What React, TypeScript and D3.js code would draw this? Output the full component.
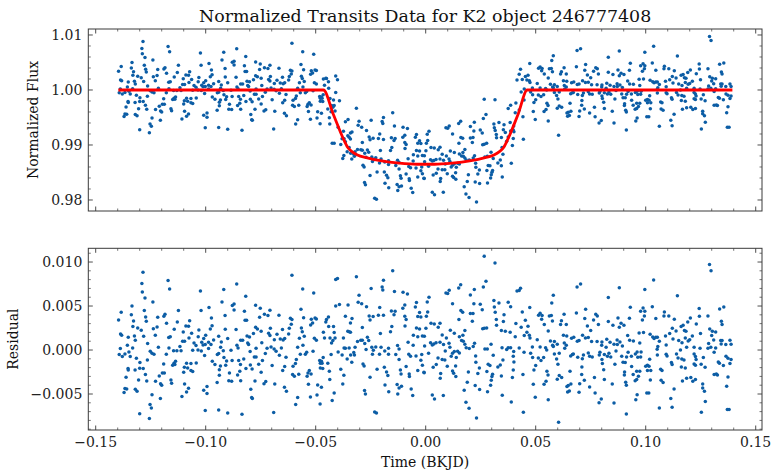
import React from "react";
import * as d3 from "d3";

const TITLE = "Normalized Transits Data for K2 object 246777408";
const X_LABEL = "Time (BKJD)";
const Y_LABEL_TOP = "Normalized Flux";
const Y_LABEL_BOTTOM = "Residual";

const X_TICKS = [-0.15, -0.1, -0.05, 0, 0.05, 0.1, 0.15];
const FLUX_TICKS = [0.98, 0.99, 1.0, 1.01];
const RESID_TICKS = [-0.005, 0, 0.005, 0.01];

// transit model (red line)
const MODEL_TIME = [-0.1397, -0.0465, -0.042, -0.0375, -0.0355, -0.0335, -0.031, -0.027, -0.02, -0.012, -0.004, 0.004, 0.012, 0.02, 0.027, 0.031, 0.0335, 0.0355, 0.0375, 0.042, 0.0462, 0.1394];
const MODEL_FLUX = [1.0, 1.0, 0.9956, 0.9912, 0.9896, 0.9888, 0.9882, 0.9877, 0.9871, 0.9867, 0.9865, 0.9865, 0.9867, 0.9871, 0.9877, 0.9882, 0.9888, 0.9896, 0.9912, 0.9956, 1.0, 1.0];

// observations: [time (BKJD, folded), residual (flux - model)]
const OBSERVATIONS: [number, number][] = [
[-0.1285,0.00883],[-0.1290,0.00755],[-0.1171,0.00789],[-0.1288,0.0066],[-0.1164,0.00694],[-0.1276,0.00592],[-0.1024,0.00671],[-0.1240,0.00546],[-0.1335,0.00501],[-0.1384,0.00429],[-0.1279,0.00448],[-0.1021,0.00448],[-0.0985,0.00482],[-0.1338,0.00402],[-0.1185,0.00406],[-0.1124,0.00448],[-0.1396,0.00342],[-0.1273,0.00376],[-0.1218,0.00372],[-0.1190,0.00383],[-0.1178,0.00304],[-0.0974,0.00365],[-0.1328,0.0033],[-0.1270,0.00327],[-0.1073,0.00334],[-0.1129,0.00319],[-0.1331,0.00266],[-0.1309,0.00251],[-0.1293,0.00224],[-0.1221,0.00262],[-0.1238,0.00243],[-0.1143,0.00236],[-0.1090,0.00274],[-0.1078,0.0027],[-0.0971,0.00277],[-0.0979,0.0024],[-0.1031,0.00228],[-0.1387,0.00183],[-0.1382,0.00168],[-0.1352,0.00145],[-0.1324,0.0016],[-0.1282,0.00156],[-0.1229,0.00168],[-0.1168,0.00141],[-0.1161,0.00152],[-0.1102,0.00205],[-0.1064,0.0019],[-0.1000,0.00168],[-0.1034,0.00152],[-0.1009,0.0013],[-0.1320,0.00111],[-0.1264,0.00073],[-0.1105,0.00099],[-0.1096,0.00099],[-0.1076,0.00137],[-0.1053,0.0008],[-0.1018,0.00088],[-0.0987,0.00088],[-0.0964,0.00115],[-0.1356,0.00054],[-0.1388,0.00016],[-0.1332,0.00024],[-0.1215,0.00031],[-0.1167,0.00024],[-0.1117,0.00039],[-0.1146,-0.00007],[-0.1131,-0.00007],[-0.1044,0.0005],[-0.1035,0.00001],[-0.1012,0.00058],[-0.1002,0.00062],[-0.0976,0.00062],[-0.0987,0.00016],[-0.1349,-0.00022],[-0.1367,-0.00045],[-0.1393,-0.00052],[-0.1379,-0.00075],[-0.1252,-0.00014],[-0.1244,-0.00037],[-0.1235,-0.00048],[-0.1179,-0.00048],[-0.1112,-0.00007],[-0.1059,-0.00003],[-0.1020,-0.0001],[-0.1005,-0.00063],[-0.1343,-0.00075],[-0.1315,-0.00094],[-0.1299,-0.00143],[-0.1265,-0.00113],[-0.1191,-0.00158],[-0.1144,-0.00151],[-0.1137,-0.00128],[-0.1087,-0.00151],[-0.1097,-0.00196],[-0.1067,-0.00154],[-0.1043,-0.00147],[-0.0970,-0.00128],[-0.0958,-0.00166],[-0.1353,-0.00211],[-0.1352,-0.00226],[-0.1321,-0.00226],[-0.1300,-0.00207],[-0.1284,-0.00211],[-0.1150,-0.00173],[-0.1140,-0.00166],[-0.1197,-0.0026],[-0.1188,-0.0026],[-0.1211,-0.00295],[-0.1067,-0.00234],[-0.1059,-0.00245],[-0.1100,-0.00253],[-0.1082,-0.00204],[-0.1362,-0.0031],[-0.1305,-0.0034],[-0.1274,-0.00279],[-0.1268,-0.00351],[-0.1228,-0.00355],[-0.1158,-0.0034],[-0.1155,-0.00378],[-0.1205,-0.00382],[-0.1200,-0.00401],[-0.1096,-0.00385],[-0.1078,-0.00435],[-0.1087,-0.00476],[-0.1367,-0.00438],[-0.1359,-0.00442],[-0.1371,-0.00484],[-0.1320,-0.00446],[-0.1312,-0.00469],[-0.1244,-0.00507],[-0.1108,-0.00529],[-0.1206,-0.00552],[-0.1009,-0.00457],[-0.0994,-0.00416],[-0.0994,-0.00495],[-0.1253,-0.0062],[-0.1247,-0.00658],[-0.1300,-0.00723],[-0.1256,-0.00779],[-0.1002,-0.00688],
[-0.0608,0.00849],[-0.0859,0.00751],[-0.0559,0.00694],[-0.0918,0.00687],[-0.0509,0.00649],[-0.0818,0.00611],[-0.0926,0.00546],[-0.0871,0.00524],[-0.0879,0.00505],[-0.0773,0.00508],[-0.0871,0.00455],[-0.0752,0.00474],[-0.0708,0.00452],[-0.0567,0.00463],[-0.0824,0.0044],[-0.0912,0.00391],[-0.0733,0.00406],[-0.0717,0.00391],[-0.0667,0.00395],[-0.0755,0.00372],[-0.0555,0.00368],[-0.0615,0.00361],[-0.0608,0.00346],[-0.0520,0.00349],[-0.0503,0.00365],[-0.0497,0.00353],[-0.0821,0.00338],[-0.0814,0.00338],[-0.0611,0.00293],[-0.0523,0.00285],[-0.0514,0.00308],[-0.0773,0.00258],[-0.0765,0.0024],[-0.0706,0.00247],[-0.0911,0.00236],[-0.0862,0.00232],[-0.0748,0.00213],[-0.0783,0.00187],[-0.0651,0.00232],[-0.0620,0.00247],[-0.0565,0.00251],[-0.0561,0.00209],[-0.0941,0.00156],[-0.0900,0.0013],[-0.0841,0.00111],[-0.0832,0.00111],[-0.0812,0.0016],[-0.0801,0.00149],[-0.0714,0.0019],[-0.0708,0.00164],[-0.0676,0.00179],[-0.0661,0.00126],[-0.0648,0.00115],[-0.0641,0.0013],[-0.0623,0.00183],[-0.0574,0.00133],[-0.0552,0.00156],[-0.0506,0.00133],[-0.0497,0.00111],[-0.0929,0.00092],[-0.0809,0.0008],[-0.0805,0.00062],[-0.0745,0.00084],[-0.0688,0.00118],[-0.0932,0.00031],[-0.0858,0.00054],[-0.0853,0.00024],[-0.0771,0.0002],[-0.0721,0.0002],[-0.0703,0.00035],[-0.0689,0.00012],[-0.0680,-0.00014],[-0.0656,0.00024],[-0.0582,0.00031],[-0.0558,0.00054],[-0.0920,-0.00007],[-0.0941,-0.00041],[-0.0947,-0.00052],[-0.0885,-0.00003],[-0.0798,-0.00018],[-0.0729,-0.00041],[-0.0665,-0.0006],[-0.0635,-0.00082],[-0.0570,-0.00048],[-0.0547,-0.00048],[-0.0541,-0.00026],[-0.0512,-0.00014],[-0.0917,-0.00086],[-0.0905,-0.00124],[-0.0880,-0.0012],[-0.0850,-0.0012],[-0.0827,-0.00101],[-0.0779,-0.00079],[-0.0771,-0.00079],[-0.0742,-0.0012],[-0.0588,-0.00109],[-0.0482,-0.0012],[-0.0933,-0.00181],[-0.0909,-0.00173],[-0.0842,-0.00166],[-0.0797,-0.0017],[-0.0759,-0.00162],[-0.0698,-0.00177],[-0.0641,-0.00188],[-0.0603,-0.00185],[-0.0592,-0.00154],[-0.0479,-0.00151],[-0.0817,-0.00211],[-0.0789,-0.00215],[-0.0650,-0.00234],[-0.0529,-0.00234],[-0.0535,-0.0026],[-0.0479,-0.00204],[-0.0938,-0.00223],[-0.0892,-0.0026],[-0.0855,-0.00283],[-0.0845,-0.00242],[-0.0748,-0.00253],[-0.0605,-0.00279],[-0.0597,-0.00298],[-0.0577,-0.00276],[-0.0539,-0.00298],[-0.0521,-0.00272],[-0.0938,-0.00287],[-0.0895,-0.00348],[-0.0882,-0.00355],[-0.0841,-0.00348],[-0.0776,-0.00351],[-0.0735,-0.00382],[-0.0727,-0.00359],[-0.0948,-0.0037],[-0.0686,-0.00385],[-0.0642,-0.00423],[-0.0633,-0.00469],[-0.0533,-0.00389],[-0.0491,-0.00397],[-0.0795,-0.00446],[-0.0791,-0.00541],[-0.0788,-0.00552],[-0.0582,-0.00541],[-0.0524,-0.00533],[-0.0494,-0.0051],[-0.0591,-0.0062],[-0.0941,-0.00681],[-0.0900,-0.00715],[-0.0835,-0.0073],[-0.0691,-0.00711],
[-0.0150,0.00902],[-0.0409,0.008],[-0.0401,0.00812],[-0.0315,0.00834],[-0.0192,0.00793],[-0.0198,0.00717],[-0.0195,0.00683],[-0.0248,0.00698],[-0.0142,0.00664],[-0.0103,0.00656],[-0.0083,0.00637],[-0.0303,0.00622],[-0.0307,0.00543],[-0.0291,0.00527],[-0.0269,0.00493],[-0.0409,0.00501],[-0.0392,0.00516],[-0.0353,0.00512],[-0.0209,0.00482],[-0.0156,0.00444],[-0.0139,0.0044],[-0.0095,0.00512],[-0.0104,0.00474],[-0.0042,0.00539],[-0.0047,0.0049],[-0.0028,0.00425],[-0.0036,0.0038],[-0.0022,0.00376],[-0.0442,0.00376],[-0.0451,0.00346],[-0.0454,0.00319],[-0.0365,0.00383],[-0.0335,0.00357],[-0.0342,0.00308],[-0.0257,0.00387],[-0.0253,0.00342],[-0.0239,0.0038],[-0.0215,0.00395],[-0.0192,0.00395],[-0.0144,0.00402],[-0.0095,0.00383],[-0.0089,0.00346],[-0.0094,0.00274],[-0.0154,0.00266],[-0.0160,0.00209],[-0.0042,0.00251],[-0.0028,0.0024],[-0.0465,0.00202],[-0.0441,0.00266],[-0.0419,0.00266],[-0.0416,0.00198],[-0.0460,0.00137],[-0.0435,0.00137],[-0.0422,0.00107],[-0.0428,0.0008],[-0.0412,0.00137],[-0.0354,0.00213],[-0.0348,0.00209],[-0.0342,0.00202],[-0.0288,0.00255],[-0.0374,0.00137],[-0.0310,0.00096],[-0.0295,0.00111],[-0.0288,0.00111],[-0.0265,0.00145],[-0.0259,0.00107],[-0.0277,0.00073],[-0.0206,0.00187],[-0.0056,0.00168],[-0.0036,0.00152],[-0.0015,0.0016],[-0.0080,0.00088],[-0.0057,0.00054],[-0.0128,0.0005],[-0.0121,0.00012],[-0.0398,-0.00022],[-0.0371,0.00024],[-0.0365,0.0002],[-0.0348,0.00024],[-0.0321,0.00031],[-0.0271,0.00005],[-0.0245,0.00031],[-0.0227,0.00035],[-0.0203,0.00031],[-0.0169,0.0002],[-0.0238,-0.00003],[-0.0186,-0.0001],[-0.0380,-0.00056],[-0.0357,-0.00101],[-0.0341,-0.00056],[-0.0327,-0.00029],[-0.0324,-0.00056],[-0.0242,-0.00048],[-0.0210,-0.00048],[-0.0169,-0.00048],[-0.0136,-0.00052],[-0.0077,-0.00048],[-0.0069,-0.00071],[-0.0044,-0.00067],[-0.0018,-0.00052],[-0.0466,-0.00086],[-0.0430,-0.00052],[-0.0474,-0.00128],[-0.0471,-0.00151],[-0.0022,-0.00117],[-0.0445,-0.00151],[-0.0336,-0.00139],[-0.0285,-0.00158],[-0.0280,-0.00181],[-0.0188,-0.00196],[-0.0089,-0.00188],[-0.0015,-0.00173],[-0.0121,-0.00109],[-0.0468,-0.00211],[-0.0386,-0.00219],[-0.0221,-0.00219],[-0.0178,-0.00249],[-0.0172,-0.00291],[-0.0115,-0.00226],[-0.0112,-0.00272],[-0.0075,-0.00272],[-0.0074,-0.00302],[-0.0036,-0.00234],[-0.0007,-0.00257],[-0.0438,-0.00242],[-0.0372,-0.00287],[-0.0253,-0.0031],[-0.0436,-0.00336],[-0.0377,-0.00385],[-0.0185,-0.00397],[-0.0130,-0.00393],[-0.0121,-0.00431],[-0.0110,-0.00412],[-0.0066,-0.00442],[-0.0474,-0.00423],[-0.0278,-0.00461],[-0.0274,-0.00499],[-0.0168,-0.00473],[-0.0127,-0.00499],[-0.0059,-0.00518],[-0.0416,-0.00488],[-0.0425,-0.00575],[-0.0480,-0.00613],[-0.0232,-0.00704],[-0.0224,-0.00715],
[0.0266,0.01065],[0.0315,0.0099],[0.0274,0.00781],[0.0159,0.00743],[0.0150,0.00705],[0.0262,0.00717],[0.0221,0.00687],[0.0107,0.00679],[0.0100,0.00641],[0.0092,0.00649],[0.0203,0.00626],[0.0015,0.00599],[0.0007,0.00546],[0.0122,0.00527],[0.0219,0.00527],[0.0248,0.0052],[0.0310,0.00562],[0.0333,0.00535],[0.0257,0.00459],[0.0160,0.00448],[0.0168,0.00429],[0.0203,0.00414],[0.0215,0.00414],[0.0312,0.0049],[0.0316,0.00429],[0.0375,0.00543],[0.0386,0.00493],[0.0415,0.00671],[0.0425,0.00675],[0.0431,0.00702],[0.0439,0.00433],[0.0009,0.00433],[0.0003,0.00383],[0.0151,0.00346],[0.0212,0.00327],[0.0321,0.00346],[0.0356,0.00402],[0.0453,0.00338],[0.0024,0.00304],[0.0039,0.00296],[0.0065,0.00304],[0.0057,0.00258],[0.0001,0.00247],[0.0322,0.00281],[0.0353,0.00323],[0.0410,0.003],[0.0434,0.00258],[0.0259,0.00243],[0.0266,0.00247],[0.0277,0.00251],[0.0178,0.00221],[0.0112,0.00224],[0.0130,0.0019],[0.0075,0.00171],[0.0344,0.00221],[0.0362,0.00213],[0.0384,0.00202],[0.0407,0.00152],[0.0448,0.00164],[0.0460,0.00202],[-0.0006,0.00156],[0.0094,0.00137],[0.0153,0.00152],[0.0169,0.00168],[0.0163,0.00107],[0.0171,0.00099],[0.0022,0.00084],[0.0030,0.00058],[0.0037,0.00069],[0.0047,0.00084],[0.0065,0.00088],[0.0081,0.00062],[0.0106,0.00077],[0.0110,0.00031],[0.0178,0.00065],[0.0184,0.00027],[0.0222,0.00077],[0.0216,0.00039],[0.0198,0.00016],[0.0297,0.00065],[0.0347,0.00027],[0.0375,0.00027],[0.0386,0.00027],[0.0368,0.00005],[0.0425,0.00024],[-0.0005,0.00046],[0.0269,0.00012],[0.0280,0.00012],[0.0089,-0.0001],[0.0130,-0.00018],[0.0145,-0.00014],[0.0153,-0.00033],[0.0122,-0.00037],[0.0116,-0.00071],[0.0013,-0.00037],[0.0400,-0.00018],[0.0447,-0.00026],[0.0139,-0.00086],[0.0056,-0.0009],[0.0075,-0.00109],[0.0087,-0.00113],[0.0227,-0.00067],[0.0307,-0.0006],[0.0398,-0.00071],[0.0351,-0.00113],[0.0328,-0.00192],[0.0339,-0.0017],[0.0228,-0.00139],[0.0048,-0.00166],[0.0284,-0.00162],[0.0292,-0.00177],[0.0401,-0.00135],[0.0034,-0.00196],[0.0098,-0.00185],[0.0136,-0.00181],[0.0244,-0.00204],[-0.0008,-0.00253],[0.0122,-0.00238],[0.0127,-0.00264],[0.0194,-0.00249],[0.0278,-0.00245],[0.0304,-0.00276],[0.0068,-0.00268],[0.0237,-0.00268],[0.0398,-0.00226],[0.0442,-0.00279],[0.0301,-0.00302],[0.0344,-0.00295],[0.0137,-0.00302],[0.0066,-0.00321],[0.0394,-0.00313],[0.0189,-0.00367],[0.0298,-0.00344],[0.0295,-0.00401],[0.0225,-0.00404],[0.0245,-0.0045],[0.0175,-0.00457],[0.0281,-0.00473],[0.0030,-0.0051],[0.0040,-0.00556],[0.0080,-0.00518],[0.0348,-0.00514],[0.0183,-0.00594],[0.0389,-0.0059],[0.0197,-0.00662],[0.0444,-0.00707],[0.0231,-0.00772],
[0.0704,0.00751],[0.0688,0.00717],[0.0880,0.00709],[0.0580,0.00622],[0.0830,0.00596],[0.0573,0.00535],[0.0930,0.00486],[0.0473,0.00482],[0.0727,0.00463],[0.0685,0.00421],[0.0520,0.00418],[0.0513,0.00395],[0.0529,0.00391],[0.0562,0.00387],[0.0571,0.00391],[0.0629,0.00406],[0.0773,0.00406],[0.0780,0.00387],[0.0527,0.00349],[0.0576,0.0033],[0.0617,0.00334],[0.0723,0.00357],[0.0763,0.00342],[0.0830,0.00323],[0.0874,0.00365],[0.0926,0.00361],[0.0539,0.00289],[0.0613,0.00289],[0.0639,0.00289],[0.0735,0.00274],[0.0785,0.00289],[0.0851,0.00281],[0.0880,0.00258],[0.0888,0.00304],[0.0901,0.00281],[0.0557,0.00217],[0.0750,0.00221],[0.0465,0.0027],[0.0471,0.00168],[0.0507,0.00118],[0.0626,0.00168],[0.0641,0.0016],[0.0663,0.00133],[0.0673,0.00145],[0.0713,0.00168],[0.0726,0.00137],[0.0739,0.00141],[0.0823,0.00122],[0.0838,0.00088],[0.0870,0.00115],[0.0883,0.00092],[0.0894,0.00046],[0.0918,0.00164],[0.0927,0.00111],[0.0474,0.00137],[0.0567,0.00103],[0.0585,0.00096],[0.0577,0.00054],[0.0580,0.00039],[0.0598,0.00065],[0.0630,0.0008],[0.0639,0.00054],[0.0632,0.0002],[0.0689,0.00099],[0.0697,0.00107],[0.0754,0.00096],[0.0779,0.00096],[0.0801,0.00092],[0.0800,0.00054],[0.0820,0.00031],[0.0856,0.00065],[0.0871,0.00062],[0.0485,0.00035],[0.0520,0.00035],[0.0545,0.00027],[0.0550,0.00001],[0.0585,-0.00045],[0.0607,-0.00037],[0.0667,-0.00052],[0.0659,-0.00067],[0.0671,-0.00045],[0.0717,-0.00056],[0.0739,-0.00033],[0.0745,-0.00071],[0.0757,-0.00079],[0.0789,-0.00056],[0.0792,-0.00026],[0.0812,-0.00052],[0.0826,-0.00071],[0.0833,-0.00037],[0.0841,-0.00079],[0.0865,-0.0001],[0.0891,-0.00071],[0.0920,-0.00026],[0.0935,-0.00071],[0.0477,-0.00037],[0.0486,-0.00086],[0.0512,-0.0009],[0.0524,-0.0012],[0.0536,-0.00086],[0.0595,-0.00101],[0.0691,-0.00082],[0.0712,-0.00098],[0.0801,-0.00109],[0.0913,-0.00079],[0.0601,-0.00162],[0.0500,-0.00177],[0.0492,-0.00226],[0.0710,-0.00192],[0.0803,-0.00154],[0.0809,-0.00223],[0.0860,-0.00162],[0.0897,-0.00139],[0.0907,-0.00143],[0.0936,-0.00188],[0.0551,-0.00242],[0.0556,-0.00283],[0.0656,-0.00242],[0.0709,-0.00279],[0.0767,-0.00313],[0.0607,-0.00291],[0.0618,-0.00313],[0.0598,-0.00332],[0.0812,-0.00336],[0.0904,-0.00249],[0.0903,-0.00283],[0.0547,-0.00355],[0.0538,-0.00389],[0.0489,-0.00389],[0.0700,-0.00382],[0.0721,-0.00344],[0.0745,-0.0042],[0.0660,-0.00385],[0.0648,-0.00404],[0.0642,-0.00416],[0.0653,-0.00465],[0.0645,-0.00476],[0.0697,-0.0048],[0.0770,-0.00488],[0.0848,-0.00385],[0.0909,-0.00367],[0.0912,-0.00401],[0.0498,-0.00537],[0.0557,-0.00564],[0.0798,-0.00556],[0.0788,-0.00598],[0.0856,-0.00601],[0.0912,-0.00726],[0.0604,-0.00821],
[0.1290,0.00971],[0.1297,0.00902],[0.1036,0.00796],[0.0996,0.00687],[0.1144,0.00618],[0.1030,0.00493],[0.0977,0.0044],[0.0988,0.00478],[0.0996,0.0044],[0.0994,0.00387],[0.0985,0.00342],[0.1085,0.00433],[0.1083,0.00387],[0.1105,0.00387],[0.1046,0.00357],[0.1130,0.00349],[0.1243,0.00471],[0.1244,0.00383],[0.1283,0.00387],[0.1203,0.00365],[0.1191,0.00319],[0.1336,0.00467],[0.1355,0.0049],[0.1344,0.00327],[0.1347,0.00289],[0.1230,0.00296],[0.1170,0.00281],[0.1161,0.00266],[0.1121,0.00247],[0.1138,0.00217],[0.1176,0.00221],[0.1183,0.00213],[0.1291,0.0024],[0.1303,0.00213],[0.1318,0.00205],[0.0970,0.00194],[0.0990,0.00198],[0.1020,0.00179],[0.1032,0.00149],[0.1038,0.0013],[0.1046,0.00145],[0.1053,0.00145],[0.1062,0.00099],[0.1090,0.0016],[0.1109,0.00187],[0.1124,0.00126],[0.1150,0.00107],[0.1165,0.00084],[0.1180,0.00137],[0.1200,0.00118],[0.1212,0.0016],[0.1193,0.00103],[0.1249,0.00187],[0.1300,0.00164],[0.1309,0.00115],[0.1341,0.00107],[0.1347,0.00107],[0.1383,0.00111],[0.1388,0.00065],[0.1364,0.00062],[0.0944,0.00103],[0.0973,0.0008],[0.1055,0.00039],[0.1052,0.00008],[0.1093,0.00058],[0.1158,0.00001],[0.1186,0.00031],[0.1220,0.00031],[0.1247,0.0002],[0.1286,0.00073],[0.1296,0.00031],[0.1283,0.0002],[0.1318,0.00024],[0.1343,0.00069],[0.0953,-0.00045],[0.0961,-0.00022],[0.0979,-0.00022],[0.0964,-0.00082],[0.0977,-0.00079],[0.1018,-0.00105],[0.1053,-0.00056],[0.1093,-0.00048],[0.1097,-0.00067],[0.1140,-0.00045],[0.1147,-0.0009],[0.1164,-0.00101],[0.1174,-0.00113],[0.1220,-0.00045],[0.1226,-0.00075],[0.1229,-0.00109],[0.1262,-0.00086],[0.1311,-0.00026],[0.1365,-0.00071],[0.1374,-0.00094],[0.1388,-0.00109],[0.1000,-0.00185],[0.1008,-0.00173],[0.1015,-0.00185],[0.1008,-0.00234],[0.1068,-0.00219],[0.1074,-0.00234],[0.1117,-0.00143],[0.1120,-0.00166],[0.1162,-0.00192],[0.1180,-0.00204],[0.1220,-0.00158],[0.1226,-0.00173],[0.1252,-0.00162],[0.1270,-0.00196],[0.1330,-0.00135],[0.1335,-0.00151],[0.1353,-0.00177],[0.1383,-0.00154],[0.0959,-0.00242],[0.0943,-0.00279],[0.0967,-0.00298],[0.1023,-0.00234],[0.0973,-0.00242],[0.1311,-0.00279],[0.1321,-0.00272],[0.1326,-0.00283],[0.1374,-0.00306],[0.0952,-0.00348],[0.0959,-0.00336],[0.1021,-0.0034],[0.1070,-0.00344],[0.1079,-0.0037],[0.1167,-0.00351],[0.1186,-0.00321],[0.1205,-0.00313],[0.1214,-0.00355],[0.1226,-0.00336],[0.1259,-0.00385],[0.1259,-0.00431],[0.1267,-0.00469],[0.1129,-0.00442],[0.1368,-0.00412],[0.1005,-0.00488],[0.1014,-0.00488],[0.0961,-0.00507],[0.0955,-0.00564],[0.1114,-0.00552],[0.1271,-0.00586],[0.1062,-0.00658],[0.1120,-0.00651],[0.1253,-0.00707],[0.1371,-0.00677],[0.1379,-0.00677],
];

const W = 775;
const H = 472;
const LEFT = 88.3;
const RIGHT = 762;
const TOP1 = 29;
const BOT1 = 211;
const TOP2 = 248.3;
const BOT2 = 430;
const FONT = "'DejaVu Serif', 'Liberation Serif', serif";
const BLUE = "#0C5DA5";
const AXIS = "#3a3a3a";

const fmt = (v: number, d: number) => {
  const s = Math.abs(v).toFixed(d);
  return (v < -1e-12 ? "\u2212" : "") + s;
};

export default function App() {
  const x = d3.scaleLinear().domain([-0.15336, 0.15286]).range([LEFT, RIGHT]);
  const yF = d3.scaleLinear().domain([0.978, 1.01109]).range([BOT1, TOP1]);
  const yR = d3.scaleLinear().domain([-0.00909, 0.01156]).range([BOT2, TOP2]);

  const modelInterp = d3.scaleLinear().domain(MODEL_TIME).range(MODEL_FLUX).clamp(true);
  const fluxPoints = OBSERVATIONS.map(([t, r]) => [t, modelInterp(t) + r] as [number, number]);
  const modelPts = MODEL_TIME.map((t, i) => [t, MODEL_FLUX[i]] as [number, number]);
  const line = d3
    .line<[number, number]>()
    .x((d) => x(d[0]))
    .y((d) => yF(d[1]))
    .curve(d3.curveMonotoneX);

  const xMinor = d3.range(-15, 16).map((k) => k / 100).filter((v) => Math.abs((v * 100) % 5) > 1e-6 && v > x.domain()[0] && v < x.domain()[1]);
  const fMinor = d3.range(489, 506).map((k) => k / 500).filter((v) => Math.round(v * 1000) % 10 !== 0 && v > 0.978 && v < 1.01109);
  const rMinor = d3.range(-9, 12).map((k) => k / 1000).filter((v) => Math.round(v * 1000) % 5 !== 0);

  const MAJ = 4.5;
  const MIN = 2.5;

  const panel = (top: number, bot: number, y: d3.ScaleLinear<number, number>, yTicks: number[], yMinor: number[], yDec: number, showX: boolean, key: string) => (
    <g key={key}>
      {X_TICKS.map((v) => (
        <g key={"xt" + v}>
          <line x1={x(v)} x2={x(v)} y1={bot} y2={bot - MAJ} stroke={AXIS} strokeWidth={0.9} />
          <line x1={x(v)} x2={x(v)} y1={top} y2={top + MAJ} stroke={AXIS} strokeWidth={0.9} />
          {showX && (
            <text x={x(v)} y={bot + 17} textAnchor="middle" fontSize={14} fill="#222">
              {fmt(v, 2)}
            </text>
          )}
        </g>
      ))}
      {xMinor.map((v) => (
        <g key={"xm" + v}>
          <line x1={x(v)} x2={x(v)} y1={bot} y2={bot - MIN} stroke={AXIS} strokeWidth={0.7} />
          <line x1={x(v)} x2={x(v)} y1={top} y2={top + MIN} stroke={AXIS} strokeWidth={0.7} />
        </g>
      ))}
      {yTicks.map((v) => (
        <g key={"yt" + v}>
          <line x1={LEFT} x2={LEFT + MAJ} y1={y(v)} y2={y(v)} stroke={AXIS} strokeWidth={0.9} />
          <line x1={RIGHT} x2={RIGHT - MAJ} y1={y(v)} y2={y(v)} stroke={AXIS} strokeWidth={0.9} />
          <text x={LEFT - 6} y={y(v)} dy="0.35em" textAnchor="end" fontSize={14} fill="#222">
            {fmt(v, yDec)}
          </text>
        </g>
      ))}
      {yMinor.map((v) => (
        <g key={"ym" + v}>
          <line x1={LEFT} x2={LEFT + MIN} y1={y(v)} y2={y(v)} stroke={AXIS} strokeWidth={0.7} />
          <line x1={RIGHT} x2={RIGHT - MIN} y1={y(v)} y2={y(v)} stroke={AXIS} strokeWidth={0.7} />
        </g>
      ))}
      <rect x={LEFT} y={top} width={RIGHT - LEFT} height={bot - top} fill="none" stroke={AXIS} strokeWidth={1} />
    </g>
  );

  return (
    <svg width={W} height={H} style={{ position: "absolute", left: 0, top: 0, background: "#fff" }} fontFamily={FONT}>
      <rect x={0} y={0} width={W} height={H} fill="#fff" />
      <text x={(LEFT + RIGHT) / 2} y={22} textAnchor="middle" fontSize={17.4} fill="#111">
        {TITLE}
      </text>
      <g>
        {fluxPoints.map(([t, f], i) => (
          <circle key={"f" + i} cx={x(t)} cy={yF(f)} r={1.75} fill={BLUE} />
        ))}
        <path d={line(modelPts) || ""} fill="none" stroke="#ff0000" strokeWidth={2.8} />
      </g>
      <g>
        {OBSERVATIONS.map(([t, r], i) => (
          <circle key={"r" + i} cx={x(t)} cy={yR(r)} r={1.75} fill={BLUE} />
        ))}
      </g>
      {panel(TOP1, BOT1, yF, FLUX_TICKS, fMinor, 2, false, "p1")}
      {panel(TOP2, BOT2, yR, RESID_TICKS, rMinor, 3, true, "p2")}
      <text transform={`translate(38,${(TOP1 + BOT1) / 2}) rotate(-90)`} textAnchor="middle" fontSize={14} fill="#111">
        {Y_LABEL_TOP}
      </text>
      <text transform={`translate(18,${(TOP2 + BOT2) / 2}) rotate(-90)`} textAnchor="middle" fontSize={14} fill="#111">
        {Y_LABEL_BOTTOM}
      </text>
      <text x={(LEFT + RIGHT) / 2} y={467} textAnchor="middle" fontSize={14} fill="#111">
        {X_LABEL}
      </text>
    </svg>
  );
}
